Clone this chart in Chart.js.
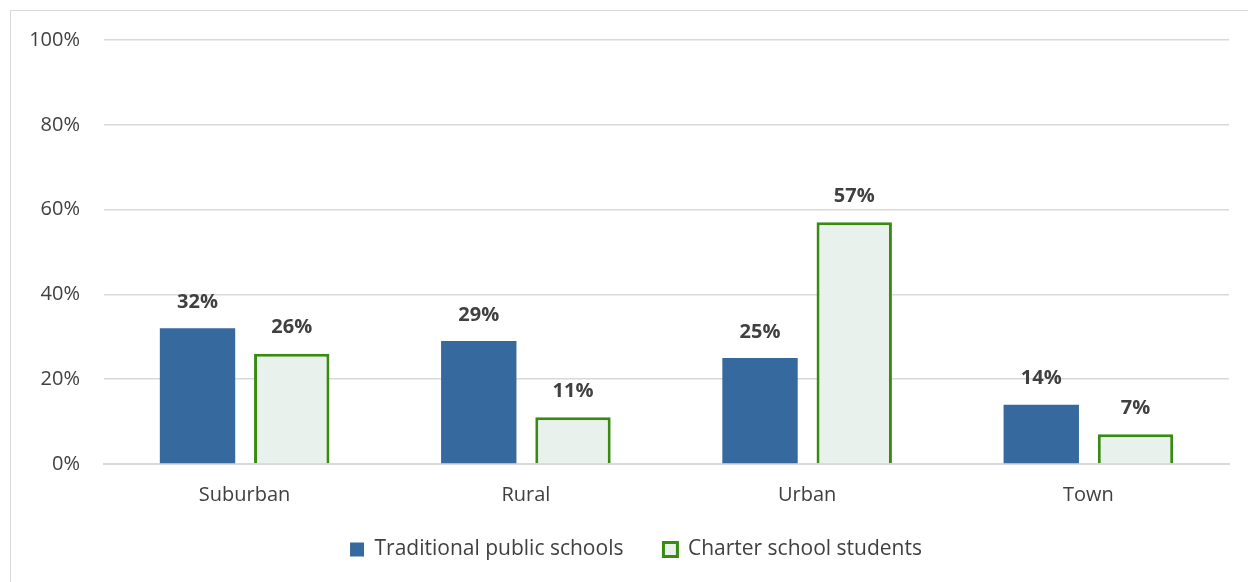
<!DOCTYPE html>
<html lang="en">
<head>
    <meta charset="UTF-8">
    <title>School locale distribution</title>
    <script src="https://cdn.jsdelivr.net/npm/chart.js"></script>
    <style>
        body {
            margin: 0;
            background: #ffffff;
            font-family: "Open Sans", sans-serif;
        }
        #frame {
            position: absolute;
            left: 10px;
            top: 10px;
            width: 1250px;
            height: 590px;
            border: 1px solid #d9d9d9;
        }
        #wrap {
            position: absolute;
            left: 11px;
            top: 11px;
            width: 1237px;
            height: 571px;
        }
    </style>
</head>
<body>
    <div id="frame"></div>
    <div id="wrap"><canvas id="chart"></canvas></div>

    <script>
        const categories = ['Suburban', 'Rural', 'Urban', 'Town'];
        const traditionalValues = [32, 29, 25, 14];
        const charterValues = [26, 11, 57, 7];
        const yTicks = [0, 20, 40, 60, 80, 100];

        const fontFamily = '"Open Sans", sans-serif';

        // draws the bold value above each bar
        const valueLabels = {
            id: 'valueLabels',
            afterDatasetsDraw(chart) {
                const ctx = chart.ctx;
                ctx.save();
                ctx.font = 'bold 20px ' + fontFamily;
                ctx.fillStyle = '#404040';
                ctx.textAlign = 'center';
                ctx.textBaseline = 'middle';
                chart.data.datasets.forEach((ds, i) => {
                    chart.getDatasetMeta(i).data.forEach((bar, j) => {
                        ctx.fillText(ds.data[j] + '%', bar.x, bar.y - 26);
                    });
                });
                ctx.restore();
            }
        };

        // nudge the legend a little, like the original
        const legendShift = {
            id: 'legendShift',
            afterLayout(chart) {
                const lg = chart.legend;
                lg.left += 16;
                lg.right += 16;
                lg.top -= 4;
                lg.bottom -= 4;
            }
        };

        new Chart(document.getElementById('chart'), {
            type: 'bar',
            data: {
                labels: categories,
                datasets: [{
                    label: 'Traditional public schools',
                    data: traditionalValues,
                    backgroundColor: '#36699d',
                    borderWidth: 0,
                    categoryPercentage: 0.67,
                    barPercentage: 0.8
                }, {
                    label: 'Charter school students',
                    data: charterValues,
                    backgroundColor: '#e9f1ec',
                    borderColor: '#388a12',
                    borderWidth: 3,
                    categoryPercentage: 0.67,
                    barPercentage: 0.8
                }]
            },
            options: {
                responsive: true,
                maintainAspectRatio: false,
                animation: false,
                layout: {
                    padding: { top: 29, right: 19, left: 0, bottom: 8 }
                },
                plugins: {
                    legend: {
                        position: 'bottom',
                        labels: {
                            color: '#404040',
                            font: { size: 21, family: fontFamily },
                            boxWidth: 14,
                            boxHeight: 14,
                            padding: 40
                        }
                    },
                    tooltip: { enabled: false }
                },
                scales: {
                    x: {
                        afterFit(scale) { scale.height = 39; },
                        grid: { display: false },
                        border: { color: '#d9d9d9', width: 2 },
                        ticks: {
                            color: '#404040',
                            font: { size: 20, family: fontFamily },
                            padding: 11
                        }
                    },
                    y: {
                        min: 0,
                        max: 100,
                        afterFit(scale) {
                            scale.width = 93;
                            scale.paddingTop = 0;
                            scale.paddingBottom = 0;
                        },
                        afterBuildTicks(scale) {
                            scale.ticks = yTicks.map(v => ({ value: v }));
                        },
                        grid: { color: '#d9d9d9', lineWidth: 1.5, drawTicks: false },
                        border: { display: false },
                        ticks: {
                            color: '#404040',
                            font: { size: 20, family: fontFamily },
                            padding: 24,
                            callback: v => v + '%'
                        }
                    }
                }
            },
            plugins: [valueLabels, legendShift]
        });
    </script>
</body>
</html>
